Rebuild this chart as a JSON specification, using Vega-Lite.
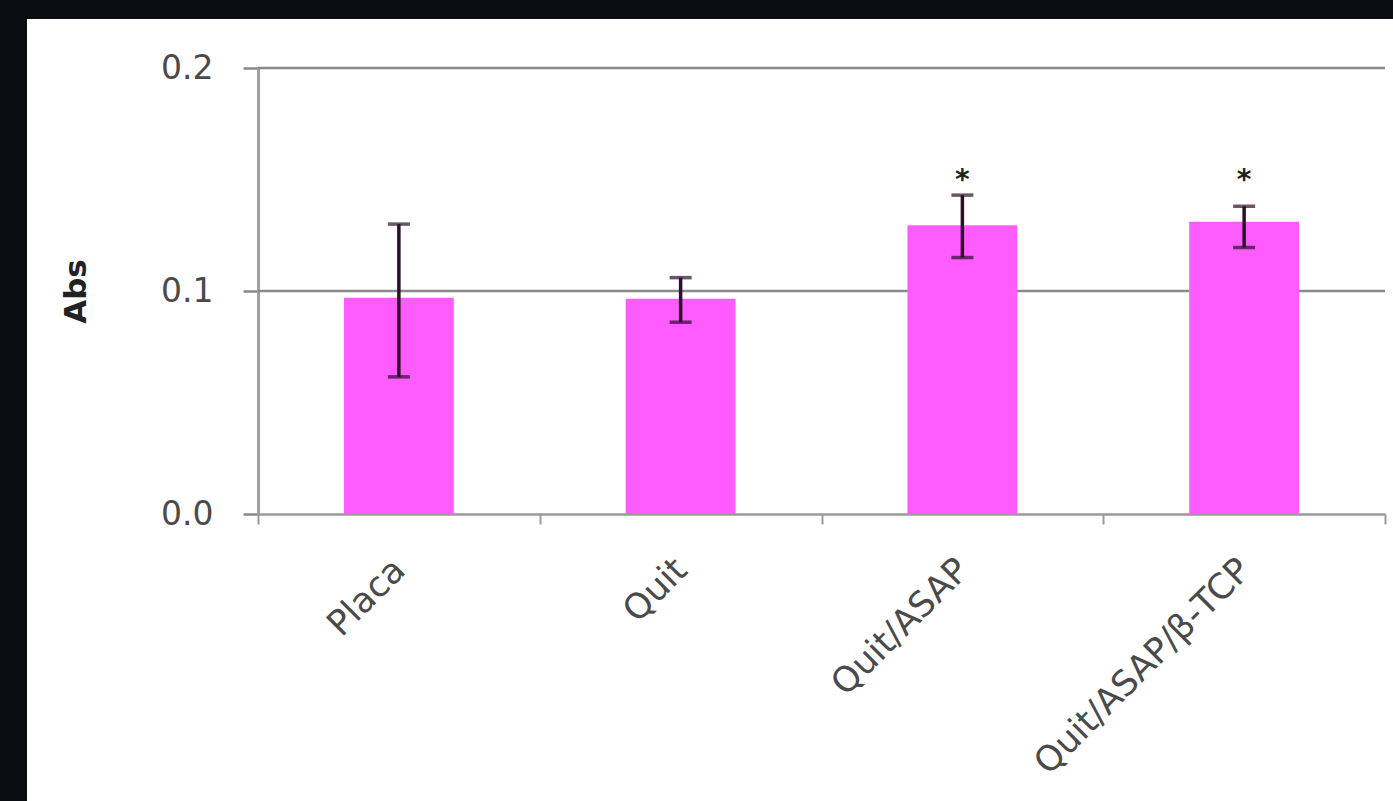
{
  "$schema": "https://vega.github.io/schema/vega-lite/v6.json",
  "width": 1366,
  "height": 782,
  "autosize": {"type": "none"},
  "padding": {"left": 27, "top": 19, "right": 0, "bottom": 0},
  "background": "#0b0b12",
  "config": {"view": {"fill": "white", "stroke": null}, "font": "DejaVu Sans"},
  "datasets": {
    "bars": [
      {"group": "Placa", "mean": 0.097, "lo": 0.0615, "hi": 0.130, "sig": ""},
      {"group": "Quit", "mean": 0.0965, "lo": 0.086, "hi": 0.106, "sig": ""},
      {"group": "Quit/ASAP", "mean": 0.1295, "lo": 0.115, "hi": 0.143, "sig": "*"},
      {"group": "Quit/ASAP/β-TCP", "mean": 0.131, "lo": 0.1195, "hi": 0.138, "sig": "*"}
    ],
    "grid": [{"v": 0.1}, {"v": 0.2}]
  },
  "layer": [
    {
      "data": {"name": "grid"},
      "mark": {"type": "rule", "color": "#8a8a8a", "strokeWidth": 2.5},
      "encoding": {
        "x": {"datum": 0, "type": "quantitative", "scale": {"domain": [0, 1], "range": [231, 1358]}, "axis": null},
        "x2": {"datum": 1},
        "y": {"field": "v", "type": "quantitative", "title": "Abs"}
      }
    },
    {
      "data": {"name": "bars"},
      "encoding": {
        "x": {
          "field": "group", "type": "nominal", "sort": null,
          "scale": {"range": [231, 1358], "paddingInner": 0, "paddingOuter": 0},
          "axis": {
            "title": null, "offset": -287, "tickBand": "extent", "grid": false,
            "domainColor": "#9a9a9a", "domainWidth": 2.5,
            "tickColor": "#9a9a9a", "tickWidth": 2, "tickSize": 10,
            "labelAngle": -45, "labelAlign": "right", "labelBaseline": "middle",
            "labelFontSize": 35, "labelColor": "#4a4a4a", "labelPadding": 40,
            "labelOverlap": false, "labelLimit": 0
          }
        }
      },
      "layer": [
        {
          "mark": {"type": "bar", "color": "#ff5cff", "width": {"band": 0.39}},
          "encoding": {
            "y": {
              "field": "mean", "type": "quantitative", "title": "Abs",
              "scale": {"domain": [0, 0.2], "range": [495, 49], "nice": false, "zero": true},
              "axis": {
                "values": [0, 0.1, 0.2], "format": ".1f", "offset": -231, "grid": false,
                "domainColor": "#a0a0a0", "domainWidth": 3,
                "tickColor": "#8a8a8a", "tickWidth": 2.5, "tickSize": 15,
                "labelFontSize": 33, "labelColor": "#4a4a4a", "labelPadding": 30,
                "titleFontSize": 31, "titleFontWeight": "bold", "titleColor": "#222222", "titlePadding": 68
              }
            }
          }
        },
        {
          "mark": {"type": "rule", "color": "#2a1029", "strokeWidth": 3.5},
          "encoding": {
            "y": {"field": "lo", "type": "quantitative", "title": "Abs"},
            "y2": {"field": "hi"}
          }
        },
        {
          "mark": {"type": "tick", "orient": "horizontal", "color": "#2a1029", "size": 22, "thickness": 3.5},
          "encoding": {"y": {"field": "hi", "type": "quantitative", "title": "Abs"}}
        },
        {
          "mark": {"type": "tick", "orient": "horizontal", "color": "#2a1029", "size": 22, "thickness": 3.5},
          "encoding": {"y": {"field": "lo", "type": "quantitative", "title": "Abs"}}
        },
        {
          "transform": [{"filter": "datum.sig != ''"}],
          "mark": {"type": "text", "fontSize": 28, "fontWeight": "bold", "color": "#222222", "baseline": "middle", "dy": 6},
          "encoding": {
            "y": {"datum": 0.152, "type": "quantitative", "title": "Abs"},
            "text": {"field": "sig"}
          }
        }
      ]
    }
  ],
  "resolve": {"scale": {"x": "independent"}}
}
